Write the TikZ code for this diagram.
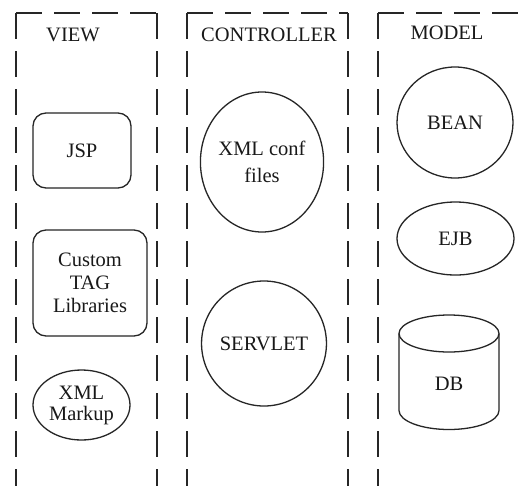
\documentclass[tikz,border=0pt]{standalone}
\usepackage{fontspec}
\setmainfont{Liberation Serif}
\usetikzlibrary{shapes.geometric}
\begin{document}
\begin{tikzpicture}[x=1pt,y=-1pt,
  lane/.style={line width=1.8pt, dash pattern=on 26pt off 12pt, draw=black!85},
  outline/.style={draw=black!85, line width=1.3pt},
  shp/.style={outline, inner sep=0pt, font=\fontsize{20.5}{23}\selectfont, text=black!90, align=center},
  ttl/.style={inner sep=0pt, font=\fontsize{20.5}{23}\selectfont, text=black!90}]
\useasboundingbox (0,0) rectangle (524,485);
\clip (0,0) rectangle (524,485);
\fill[white] (0,0) rectangle (524,485);

% lanes
\draw[lane] (16,13) -- (157,13);
\draw[lane] (16,13) -- (16,495);
\draw[lane] (157,13) -- (157,495);
\draw[lane] (187,13) -- (348,13);
\draw[lane] (187,13) -- (187,495);
\draw[lane] (348,13) -- (348,495);
\draw[lane] (378,13) -- (540,13);
\draw[lane] (378,13) -- (378,495);

% titles
\node[ttl] (tview) at (73,35) {VIEW};
\node[ttl] (tctrl) at (269,35) {CONTROLLER};
\node[ttl] (tmodel) at (447,33) {MODEL};

% view
\node[shp, rectangle, rounded corners=13pt, minimum width=98pt, minimum height=75pt] (jsp) at (82,150.5) {JSP};
\node[shp, rectangle, rounded corners=13pt, minimum width=114pt, minimum height=106pt,
      font=\fontsize{20.5}{23}\selectfont] (ctag) at (90,283) {Custom\\TAG\\Libraries};
\node[shp, ellipse, minimum width=97pt, minimum height=70pt,
      font=\fontsize{20.5}{21}\selectfont] (xmlm) at (81.5,405) {XML\\Markup};

% controller
\node[shp, ellipse, minimum width=118pt, minimum height=140pt,
      font=\fontsize{20.5}{27}\selectfont] (xmlc) at (262,162) {XML conf\\files};
\node[shp, ellipse, minimum width=124pt, minimum height=125pt] (servlet) at (264,343.5) {SERVLET};

% model
\node[shp, ellipse, minimum width=116pt, minimum height=111pt] (bean) at (455,122.5) {BEAN};
\node[shp, ellipse, minimum width=117pt, minimum height=73pt] (ejb) at (455.5,238.5) {EJB};
\node[ttl] (db) at (449,384) {DB};
\draw[outline] (449,333.5) ellipse [x radius=50pt, y radius=18.5pt];
\draw[outline] (399,333.5) -- (399,410.5)
   arc[start angle=180, end angle=360, x radius=50pt, y radius=19pt] -- (499,333.5);
\end{tikzpicture}
\end{document}
